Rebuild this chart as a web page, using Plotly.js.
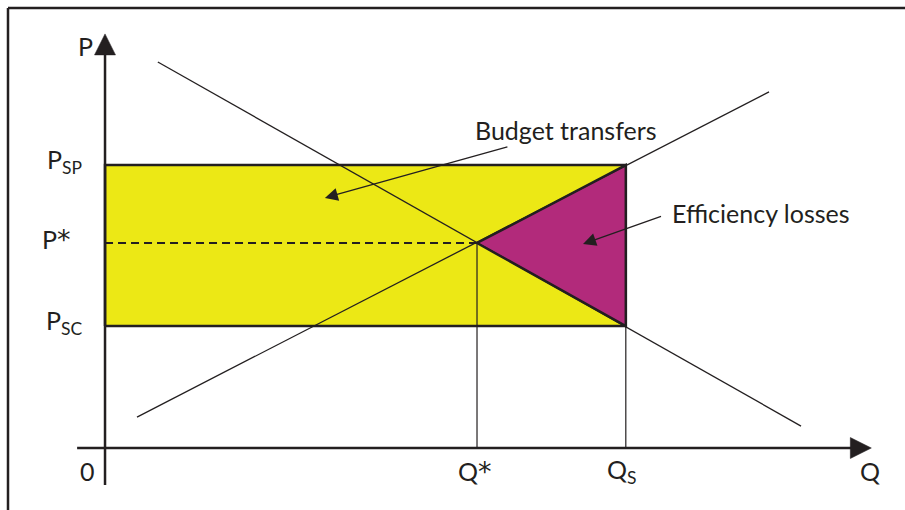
<!DOCTYPE html>
<html><head><meta charset="utf-8">
<script src="https://cdn.plot.ly/plotly-3.0.1.min.js"></script>
<style>html,body{margin:0;padding:0;background:#fff}#chart{width:905px;height:510px}</style>
</head><body><div id="chart"></div>
<script>
// ---- data (economic units) ----
const qStar = 10, qS = 14;
const pStar = 10, pSP = 13.8, pSC = 5.95;
const supplyQ = [0.86, 17.85];
const supplyP = [1.51, 17.37];
const demandQ = [1.42, 18.71];
const demandP = [18.83, 1.07];
const qAxisEnds = [-0.75, 20.6];
const pAxisEnds = [-1.8, 20.2];
const qTickVals = [0, qStar, qS];
const qTickText = ['0', 'Q*', 'Q<sub>S</sub>'];
const pTickVals = [pSC, pStar, pSP];
const pTickText = ['P<sub>SC</sub>', 'P*', 'P<sub>SP</sub>'];
const axisNames = ['Q', 'P'];
const noteText = ['Budget transfers', 'Efficiency losses'];
const noteQ = [12.4, 15.2];
const noteP = [15.5, 11.46];
const noteTipQ = [5.91, 12.85];
const noteTipP = [12.2, 9.95];

// ---- styles ----
const ink = '#231f20';
const yellow = '#ECE815';
const magenta = '#B22A7B';
const FONT = 'Lato, "Open Sans", sans-serif';
const pxPerQ = 37.2, pxPerP = 20.5;   // scale of the axes below
const headLen = 21, headHalf = 10.5;   // axis arrow heads, px

function star(s) {
  return s.replace('*', '<span style="font-family:\'DejaVu Sans\';font-size:27px">*</span>');
}

const qHeadBase = qAxisEnds[1] - headLen / pxPerQ;
const pHeadBase = pAxisEnds[1] - headLen / pxPerP;

const traces = [
  { // budget transfer rectangle
    x: [0, qS, qS, 0, 0], y: [pSC, pSC, pSP, pSP, pSC],
    mode: 'lines', fill: 'toself', fillcolor: yellow,
    line: {color: ink, width: 2.5}, hoverinfo: 'skip'
  },
  { // efficiency loss triangle
    x: [qStar, qS, qS, qStar], y: [pStar, pSP, pSC, pStar],
    mode: 'lines', fill: 'toself', fillcolor: magenta,
    line: {color: ink, width: 2.5}, hoverinfo: 'skip'
  },
  { // P* dashed
    x: [0, qStar], y: [pStar, pStar], mode: 'lines',
    line: {color: ink, width: 2, dash: '8px,5px'}, hoverinfo: 'skip'
  },
  { // Q* drop line
    x: [qStar, qStar], y: [pStar, 0], mode: 'lines',
    line: {color: ink, width: 1.2}, hoverinfo: 'skip'
  },
  { // Qs drop line
    x: [qS, qS], y: [pSP, 0], mode: 'lines',
    line: {color: ink, width: 1.2}, hoverinfo: 'skip'
  },
  { // supply
    x: supplyQ, y: supplyP, mode: 'lines',
    line: {color: ink, width: 1.3}, hoverinfo: 'skip'
  },
  { // demand
    x: demandQ, y: demandP, mode: 'lines',
    line: {color: ink, width: 1.3}, hoverinfo: 'skip'
  },
  { // Q axis
    x: [qAxisEnds[0], qHeadBase + 0.05], y: [0, 0], mode: 'lines',
    line: {color: ink, width: 2.5}, hoverinfo: 'skip'
  },
  { // P axis
    x: [0, 0], y: [pAxisEnds[0], pHeadBase + 0.05], mode: 'lines',
    line: {color: ink, width: 2.5}, hoverinfo: 'skip'
  },
  { // Q arrow head
    x: [qAxisEnds[1], qHeadBase, qHeadBase, qAxisEnds[1]],
    y: [0, headHalf / pxPerP, -headHalf / pxPerP, 0],
    mode: 'lines', fill: 'toself', fillcolor: ink, line: {color: ink, width: 0.5}, hoverinfo: 'skip'
  },
  { // P arrow head
    x: [0, headHalf / pxPerQ, -headHalf / pxPerQ, 0],
    y: [pAxisEnds[1], pHeadBase, pHeadBase, pAxisEnds[1]],
    mode: 'lines', fill: 'toself', fillcolor: ink, line: {color: ink, width: 0.5}, hoverinfo: 'skip'
  }
];

const ann = [];
const txtFont = {family: FONT, size: 25, color: ink};
// axis names
ann.push({x: qAxisEnds[1], y: 0, text: axisNames[0], showarrow: false, xanchor: 'center', yanchor: 'middle',
  xshift: -1, yshift: -23, font: txtFont});
ann.push({x: 0, y: pAxisEnds[1], text: axisNames[1], showarrow: false, xanchor: 'center', yanchor: 'middle',
  xshift: -20, yshift: -12, font: txtFont});
// tick labels
const qShift = [-18, -2, -4];
qTickVals.forEach((v, i) => ann.push({x: v, y: 0, text: star(qTickText[i]), showarrow: false,
  xanchor: 'center', yanchor: 'middle', xshift: qShift[i], yshift: -23, font: txtFont}));
const pShift = [-41, -49, -41];
pTickVals.forEach((v, i) => ann.push({x: 0, y: v, text: star(pTickText[i]), showarrow: false,
  xanchor: 'center', yanchor: 'middle', xshift: pShift[i], yshift: 4, font: txtFont}));
// notes with arrows pointing into the areas
const noteAnchor = ['center', 'left'];
const noteStart = [0, 10];
noteText.forEach((t, i) => {
  ann.push({x: noteTipQ[i], y: noteTipP[i], ax: noteQ[i], ay: noteP[i],
    xref: 'x', yref: 'y', axref: 'x', ayref: 'y', text: t, showarrow: true,
    xanchor: noteAnchor[i], yanchor: 'middle', startstandoff: noteStart[i],
    arrowhead: 2, arrowsize: 2, arrowwidth: 1.3, arrowcolor: ink, font: txtFont});
});

const layout = {
  width: 905, height: 510,
  margin: {l: 0, r: 0, t: 0, b: 0, pad: 0},
  paper_bgcolor: '#ffffff', plot_bgcolor: 'rgba(0,0,0,0)',
  showlegend: false,
  xaxis: {range: [-2.823, 21.505], visible: false, fixedrange: true},
  yaxis: {range: [-3.024, 21.854], visible: false, fixedrange: true},
  annotations: ann,
  shapes: [
    {type: 'line', xref: 'paper', yref: 'paper', x0: 8/905, x1: 8/905, y0: -0.02, y1: 1 - 8/510,
      line: {color: ink, width: 2.5}},
    {type: 'line', xref: 'paper', yref: 'paper', x0: 8/905, x1: 1.02, y0: 1 - 8/510, y1: 1 - 8/510,
      line: {color: ink, width: 2.5}}
  ]
};

Plotly.newPlot('chart', traces, layout, {displayModeBar: false, staticPlot: true});
</script>
</body></html>
